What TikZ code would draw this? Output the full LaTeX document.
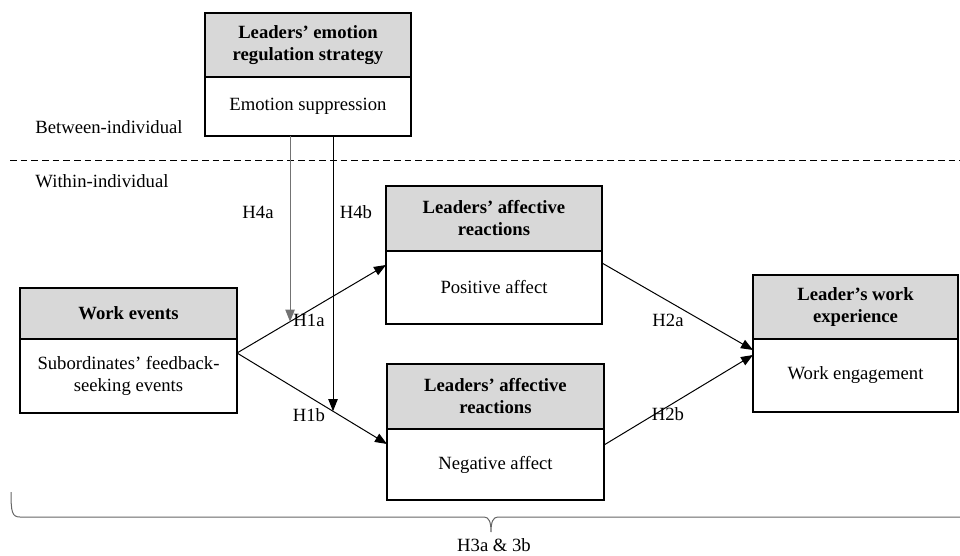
\documentclass[tikz,border=0pt]{standalone}
\usepackage{fontspec}
\setmainfont{Liberation Serif}
\usetikzlibrary{positioning,calc,arrows.meta}
\definecolor{headgray}{RGB}{216,216,216}
\tikzset{every picture/.style={line width=0.75pt}}
\tikzset{
  every node/.style={font=\fontsize{14}{16.5}\selectfont},
  headbox/.style={draw, line width=1.5pt, fill=headgray, font=\fontsize{14}{16.5}\selectfont\bfseries, align=center, inner sep=0pt, outer sep=0pt},
  bodybox/.style={draw, line width=1.5pt, fill=white, align=center, inner sep=0pt, outer sep=0pt},
  link/.style={-{Triangle[length=9pt,width=7pt]}},
  hyp/.style={inner sep=0pt}
}
\begin{document}
\begin{tikzpicture}[x=0.75pt,y=0.75pt,yscale=-1,xscale=1]
\clip (0,0) rectangle (960,556);

% Level divider
\draw [dash pattern=on 5pt off 3pt] (10,161) -- (960,161);
\node (between) at (109,127) {Between-individual};
\node (within) at (102,181) {Within-individual};

% Moderator box
\node [headbox, minimum width=154.5pt, minimum height=48pt] (regh) at (308,45) {Leaders' emotion\\regulation strategy};
\node [bodybox, minimum width=154.5pt, minimum height=44.25pt, below=0pt of regh] (regb) {Emotion suppression};

% Work events box
\node [headbox, minimum width=162.75pt, minimum height=38.25pt] (weh) at (128.5,313.5) {Work events};
\node [bodybox, minimum width=162.75pt, minimum height=55.5pt, below=0pt of weh] (web) {Subordinates' feedback-\\seeking events};

% Positive affect box
\node [headbox, minimum width=162pt, minimum height=48.75pt] (pah) at (494,218.5) {Leaders' affective\\reactions};
\node [bodybox, minimum width=162pt, minimum height=54.75pt, below=0pt of pah] (pab) {Positive affect};

% Negative affect box
\node [headbox, minimum width=162.75pt, minimum height=48.75pt] (nah) at (495.5,396.5) {Leaders' affective\\reactions};
\node [bodybox, minimum width=162.75pt, minimum height=53.25pt, below=0pt of nah] (nab) {Negative affect};

% Work experience box
\node [headbox, minimum width=153.75pt, minimum height=48pt] (wxh) at (855.5,307) {Leader's work\\experience};
\node [bodybox, minimum width=153.75pt, minimum height=54.75pt, below=0pt of wxh] (wxb) {Work engagement};

% Connector ends
\coordinate (weout) at ($(web.north east)+(0,14)$);
\coordinate (pain) at ($(pab.north west)+(0,14)$);
\coordinate (nain) at ($(nab.north west)+(0,15)$);
\coordinate (paout) at ($(pab.north east)+(0,12)$);
\coordinate (naout) at ($(nab.north east)+(0,16)$);
\coordinate (wxin1) at ($(wxb.north west)+(0,11)$);
\coordinate (wxin2) at ($(wxb.north west)+(0,16)$);

% Paths
\draw [link] (weout) -- (pain) coordinate[pos=0.356] (m1);
\draw [link] (weout) -- (nain) coordinate[pos=0.64] (m2);
\draw [link] (paout) -- (wxin1);
\draw [link] (naout) -- (wxin2);

% Moderation
\draw [link, draw=black!55] (regb.south -| m1) -- (m1);
\draw [link] (regb.south -| m2) -- (m2);

% Hypothesis labels
\node [hyp] (h4a) at (258,212) {H4a};
\node [hyp] (h4b) at (356,212) {H4b};
\node [hyp] (h1a) at (309,320) {H1a};
\node [hyp] (h1b) at (309,415) {H1b};
\node [hyp] (h2a) at (668,320) {H2a};
\node [hyp] (h2b) at (668,414) {H2b};

% Brace
\coordinate (tip) at (491,532);
\draw [draw=black!60] (11,492) .. controls (11,512) and (12,517) .. (20,517) -- (484,517)
  .. controls (489,517) and (491,522) .. (tip)
  .. controls (491,522) and (493,517) .. (498,517) -- (975,517);
\node [hyp] (h3) at (494,545) {H3a \& 3b};

\end{tikzpicture}
\end{document}
